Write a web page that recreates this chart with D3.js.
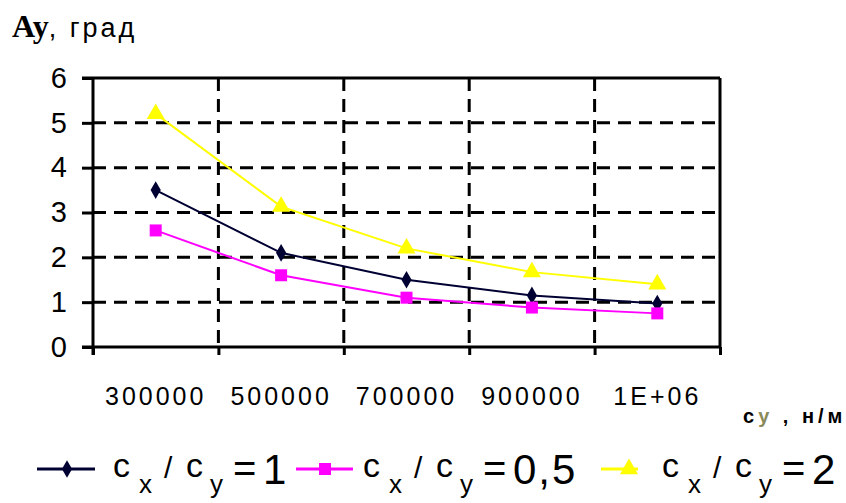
<!DOCTYPE html>
<html lang="ru">
<head>
<meta charset="UTF-8">
<title>Ay chart</title>
<script src="https://d3js.org/d3.v7.min.js"></script>
<style>
  * { margin: 0; padding: 0; box-sizing: border-box; }
  body { background: #fff; font-family: "Liberation Sans", Arial, sans-serif; }
  svg { display: block; }
</style>
</head>
<body>
<div id="chart"></div>
<script>
// data
const categories = ["300000", "500000", "700000", "900000", "1E+06"];
const ratio1 = [3.5, 2.1, 1.5, 1.15, 0.97];   // cx/cy = 1
const ratio05 = [2.6, 1.6, 1.1, 0.88, 0.75];  // cx/cy = 0,5
const ratio2 = [5.2, 3.13, 2.2, 1.67, 1.4];   // cx/cy = 2
const yTicks = [0, 1, 2, 3, 4, 5, 6];

const series = [
  { values: ratio1, color: "#000033", symbol: d3.symbolDiamond, size: 90, value: "1" },
  { values: ratio05, color: "#ff00ff", symbol: d3.symbolSquare, size: 144, value: "0,5" },
  { values: ratio2, color: "#ffff00", symbol: d3.symbolTriangle, size: 140, value: "2" }
];

const W = 846, H = 503;
const pLeft = 93, pRight = 720, pTop = 78, pBottom = 347;

const svg = d3.select("#chart").append("svg")
  .attr("width", W).attr("height", H);

const x = d3.scaleBand().domain(categories).range([pLeft, pRight]).padding(0);
const xEdge = d3.scaleLinear().domain([0, categories.length]).range([pLeft, pRight]);
const y = d3.scaleLinear().domain([0, 6]).range([pBottom, pTop]);

// dashed grid
svg.append("g")
  .selectAll("line")
  .data(yTicks.filter(d => d > 0 && d < 6))
  .join("line")
  .attr("x1", pLeft).attr("x2", pRight)
  .attr("y1", d => y(d)).attr("y2", d => y(d))
  .attr("stroke", "#000").attr("stroke-width", 3)
  .attr("stroke-dasharray", "13,8");

svg.append("g")
  .selectAll("line")
  .data(d3.range(1, categories.length))
  .join("line")
  .attr("x1", d => xEdge(d)).attr("x2", d => xEdge(d))
  .attr("y1", pTop).attr("y2", pBottom)
  .attr("stroke", "#000").attr("stroke-width", 3)
  .attr("stroke-dasharray", "13,8");

// frame: top and right
svg.append("line")
  .attr("x1", pLeft - 11).attr("x2", pRight)
  .attr("y1", pTop).attr("y2", pTop)
  .attr("stroke", "#000").attr("stroke-width", 3);
svg.append("line")
  .attr("x1", pRight).attr("x2", pRight)
  .attr("y1", pTop).attr("y2", pBottom)
  .attr("stroke", "#000").attr("stroke-width", 3);

// y axis
const yAxis = svg.append("g")
  .attr("transform", `translate(${pLeft},0)`)
  .call(d3.axisLeft(y).tickValues(yTicks).tickFormat(d3.format("d"))
    .tickSize(11).tickSizeOuter(0).tickPadding(15));
yAxis.select(".domain").attr("stroke-width", 3).attr("d", `M0,${pTop}V${pBottom + 8}`);
yAxis.selectAll(".tick line").attr("stroke-width", 3);
yAxis.selectAll("text")
  .style("font-family", "'Liberation Sans', Arial, sans-serif")
  .style("font-size", "29px")
  .attr("fill", "#000");

// x axis: ticks at category edges
const xAxis = svg.append("g")
  .attr("transform", `translate(0,${pBottom})`)
  .call(d3.axisBottom(xEdge).tickValues(d3.range(0, categories.length + 1)).tickFormat("").tickSize(8).tickSizeOuter(0));
xAxis.select(".domain").attr("stroke-width", 3).attr("d", `M${pLeft - 11},0H${pRight}`);
xAxis.selectAll(".tick line").attr("stroke-width", 3);

// x labels centered in bands
const xLab = svg.append("g")
  .attr("transform", `translate(0,${pBottom})`)
  .call(d3.axisBottom(x).tickSize(0).tickPadding(40));
xLab.select(".domain").remove();
xLab.selectAll("text")
  .style("font-family", "'Liberation Sans', Arial, sans-serif")
  .style("font-size", "25px")
  .style("letter-spacing", "3px")
  .attr("fill", "#000");

// lines and markers
const line = d3.line()
  .x((d, i) => x(categories[i]) + x.bandwidth() / 2)
  .y(d => y(d));

series.forEach(s => {
  svg.append("path")
    .datum(s.values)
    .attr("d", line)
    .attr("fill", "none")
    .attr("stroke", s.color)
    .attr("stroke-width", 2);
  svg.append("g")
    .selectAll("path")
    .data(s.values)
    .join("path")
    .attr("transform", (d, i) => `translate(${x(categories[i]) + x.bandwidth() / 2},${y(d)})`)
    .attr("d", d3.symbol(s.symbol, s.size))
    .attr("fill", s.color);
});

// axis titles
const yTitle = svg.append("text")
  .attr("x", 12).attr("y", 37)
  .attr("fill", "#000");
yTitle.append("tspan")
  .style("font-family", "'Liberation Serif', serif")
  .style("font-size", "32px")
  .style("font-weight", "bold")
  .text("Ay");
yTitle.append("tspan")
  .style("font-family", "'Liberation Sans', Arial, sans-serif")
  .style("font-size", "27px")
  .style("letter-spacing", "3px")
  .text(", град");

const xTitle = svg.append("text")
  .attr("x", 743).attr("y", 423)
  .style("font-family", "'Liberation Sans', Arial, sans-serif")
  .style("font-size", "20px")
  .style("font-weight", "bold")
  .style("letter-spacing", "4px")
  .attr("fill", "#000");
xTitle.append("tspan").text("c");
xTitle.append("tspan").attr("fill", "#8a8a5a").text("y");
xTitle.append("tspan").text(" , н/м");

// legend
const legendPos = [
  { x1: 37, x2: 95, mx: 67, tx: 113 },
  { x1: 296, x2: 353, mx: 325, tx: 363 },
  { x1: 601, x2: 638, mx: 629, tx: 662 }
];
const ly = 469;
series.forEach((s, i) => {
  const p = legendPos[i];
  const g = svg.append("g");
  g.append("line")
    .attr("x1", p.x1).attr("x2", p.x2)
    .attr("y1", ly).attr("y2", ly)
    .attr("stroke", s.color).attr("stroke-width", 3);
  g.append("path")
    .attr("transform", `translate(${p.mx},${ly})`)
    .attr("d", d3.symbol(s.symbol, s.size))
    .attr("fill", s.color);
  const parts = [
    { t: "c", dx: 0, y: 477, size: 34 },
    { t: "x", dx: 26, y: 493, size: 26 },
    { t: "/", dx: 51, y: 478, size: 30 },
    { t: "c", dx: 73, y: 477, size: 34 },
    { t: "y", dx: 97, y: 493, size: 26 },
    { t: "=", dx: 120, y: 482, size: 40 },
    { t: s.value, dx: 150, y: 484, size: 42 }
  ];
  g.selectAll("text")
    .data(parts)
    .join("text")
    .attr("x", d => p.tx + d.dx)
    .attr("y", d => d.y)
    .style("font-family", "'Liberation Sans', Arial, sans-serif")
    .style("font-size", d => d.size + "px")
    .style("letter-spacing", "2px")
    .attr("fill", "#000")
    .text(d => d.t);
});
</script>
</body>
</html>
